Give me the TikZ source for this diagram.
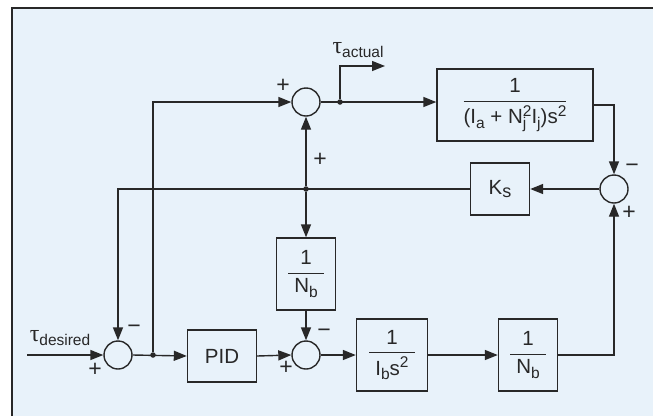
\documentclass[tikz,border=0pt]{standalone}
\usepackage{fontspec}
\setmainfont{Liberation Sans}
\newfontfamily\taufont{Liberation Serif}
\usepackage{amsmath}
\usetikzlibrary{arrows.meta}
\definecolor{bg}{RGB}{232,242,250}
\definecolor{ln}{RGB}{40,40,40}
\newcommand{\sbs}[1]{\raisebox{-4.5pt}{\fontsize{15.5}{15.5}\selectfont #1}}
\newcommand{\sps}[1]{\raisebox{7.5pt}{\fontsize{15.5}{15.5}\selectfont #1}}
\newcommand{\sbsp}[2]{\makebox[0pt][l]{\sbs{#1}}\sps{#2}}
\newcommand{\bfrac}[3][6pt]{$\displaystyle\genfrac{}{}{1.2pt}{0}{\text{#2}}{\hspace{#1}\text{#3}\hspace{#1}}$}
\newcommand{\tauch}{{\taufont\fontsize{24}{24}\selectfont τ}}
\begin{document}
\begin{tikzpicture}[x=1pt,y=-1pt,
  every node/.style={font=\fontsize{20.5}{23}\selectfont, text=ln},
  blk/.style={draw=ln, line width=1.4pt, fill=bg, inner sep=0pt},
  sumc/.style={circle, draw=ln, line width=1.4pt, fill=bg, minimum size=28pt, inner sep=0pt},
  sig/.style={inner sep=0pt, font=\fontsize{23}{23}\selectfont},
  conn/.style={draw=ln, line width=1.4pt},
  arr/.style={conn, -{Triangle[length=13pt,width=10pt]}},
  jdot/.style={circle, fill=ln, minimum size=5.5pt, inner sep=0pt}]
\useasboundingbox (0,0) rectangle (653,416);
\fill[white] (0,0) rectangle (653,416);
\fill[bg] (12,8) rectangle (653,416);
\draw[ln, line width=1.6pt] (12,416) -- (12,8) -- (653,8);

% summing junctions
\node[sumc] (s1) at (306,102) {};
\node[sumc] (s2) at (614,189) {};
\node[sumc] (s3) at (118,355) {};
\node[sumc] (s4) at (306,355) {};

% blocks
\node[blk, minimum width=156pt, minimum height=72pt] (G) at (515,105)
  {\bfrac[0pt]{1}{(I\sbs{a} + N\sbsp{j}{2}I\sbs{j})s\sps{2}}};
\node[blk, minimum width=59pt, minimum height=52pt] (Ks) at (500,189)
  {K\raisebox{-3pt}{\fontsize{18}{18}\selectfont s}};
\node[blk, minimum width=59pt, minimum height=72pt] (Nb1) at (306,274) {\bfrac{1}{N\sbs{b}}};
\node[blk, minimum width=69pt, minimum height=52pt] (PID) at (222,356) {PID};
\node[blk, minimum width=71pt, minimum height=72pt] (Ib) at (392,355) {\bfrac{1}{I\sbs{b}s\sps{2}}};
\node[blk, minimum width=59pt, minimum height=72pt] (Nb2) at (528,355) {\bfrac{1}{N\sbs{b}}};

% junction dots and free ends
\node[jdot] (d1) at (153,355) {};
\node[jdot] (d2) at (306,189) {};
\node[jdot] (d3) at (340,102) {};
\coordinate (in) at (27,355);
\coordinate (out) at (385,66);

% connectors
\draw[arr] (in) -- (s3.west);
\draw[arr] (s3.east) -- (PID.west);
\draw[arr] (d1) |- (s1.west);
\draw[arr] (PID.east) -- (s4.west);
\draw[arr] (s4.east) -- (Ib.west);
\draw[arr] (Ib.east) -- (Nb2.west);
\draw[arr] (Nb2.east) -| (s2.south);
\draw[arr] (G.east) -| (s2.north);
\draw[arr] (s2.west) -- (Ks.east);
\draw[arr] (Ks.west) -| (s3.north);
\draw[arr] (d2) -- (s1.south);
\draw[arr] (d2) -- (Nb1.north);
\draw[arr] (Nb1.south) -- (s4.north);
\draw[arr] (s1.east) -- (s1.east -| G.west);
\draw[arr] (d3) |- (out);

% labels
\node (tact) at (358,50) {\tauch\sbs{actual}};
\node (tdes) at (60,338) {\tauch\sbs{desired}};

% signs
\node[sig] (p1a) at (283,86) {+};
\node[sig] (p1b) at (320,160) {+};
\node[sig] (m2) at (632,168) {−};
\node[sig] (p2) at (629,213) {+};
\node[sig] (m3) at (134,329) {−};
\node[sig] (p3) at (95,370) {+};
\node[sig] (m4) at (324,333) {−};
\node[sig] (p4) at (286,368) {+};
\end{tikzpicture}
\end{document}
